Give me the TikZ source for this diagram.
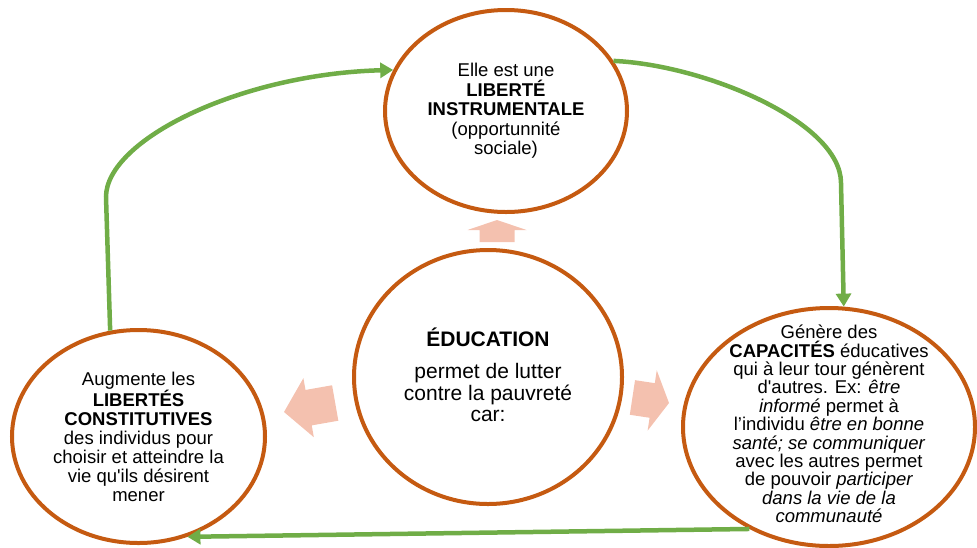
\documentclass[tikz,border=0pt]{standalone}
\usepackage{fontspec}
\setmainfont{Liberation Sans}
\usetikzlibrary{positioning, shapes.geometric, arrows.meta}
\definecolor{orangefonce}{HTML}{C55A11}
\definecolor{vertlien}{HTML}{70AD47}
\definecolor{saumon}{HTML}{F4C1AF}

\begin{document}
\begin{tikzpicture}[
		x=1pt, y=-1pt,
		% GLOBAL CFG
		>={Triangle[length=13pt,width=15pt]},
		% Styles
		bulle/.style={% For the ellipses
			ellipse,
			draw=orangefonce,
			line width=4pt,
			fill=white,
			inner sep=0pt,
		},
		texte/.style={% For the text in the ellipses
			align=center,
			inner sep=0pt,
			font=\fontsize{18.5}{19}\selectfont,
		},
		lien/.style={% For the green arrows
			->,
			draw=vertlien,
			line width=4.5pt,
		},
		bloc/.style={% For the pink block arrows
			fill=saumon,
		},
		]
		\useasboundingbox (0,0) rectangle (977,547);
		
		% Draw the ellipses
		\node [bulle, minimum width=242pt, minimum height=202pt] (haut) at (506,111) {};
		\node [bulle, minimum width=268pt, minimum height=254pt] (centre) at (488,377) {};
		\node [bulle, minimum width=253pt, minimum height=213pt] (gauche) at (138.5,436.5) {};
		\node [bulle, minimum width=292pt, minimum height=238pt] (droite) at (829,427) {};
		
		% Texts
		\node [texte, font=\fontsize{18.5}{19.5}\selectfont] (haut-t) at (haut) {Elle est une\\\textbf{LIBERTÉ}\\\textbf{INSTRUMENTALE}\\(opportunnité\\sociale)};
		\node [texte, font=\fontsize{21}{21.5}\selectfont] (centre-t) at ([yshift=2pt]centre.center) {\textbf{ÉDUCATION}\\[11pt]permet de lutter\\contre la pauvreté\\car:};
		\node [texte] (gauche-t) at (gauche) {Augmente les\\\textbf{LIBERTÉS}\\\textbf{CONSTITUTIVES}\\des individus pour\\choisir et atteindre la\\vie qu\textquotesingle ils désirent\\mener};
		\node [texte, font=\fontsize{18.5}{18.4}\selectfont] (droite-t) at ([yshift=3pt]droite.center) {Génère des\\\textbf{CAPACITÉS} éducatives\\qui à leur tour génèrent\\d\textquotesingle autres. Ex: \textit{être}\\\textit{informé} permet à\\l’individu \textit{être en bonne}\\\textit{santé; se communiquer}\\avec les autres permet\\de pouvoir \textit{participer}\\\textit{dans la vie de la}\\\textit{communauté}};
		
		% Block arrows out of the centre
		\coordinate (pointe-haut) at (497,220);
		\coordinate (pointe-gauche) at (284,412);
		\coordinate (pointe-droite) at (669,403);
		\fill [bloc, shift={(pointe-haut)}, rotate=90] (0,0) -- (-10,29.5) -- (-10,17.5) -- (-22,17.5) -- (-22,-17.5) -- (-10,-17.5) -- (-10,-29.5) -- cycle;
		\fill [bloc, shift={(pointe-gauche)}, rotate=190] (0,0) -- (-25,30) -- (-25,18) -- (-52,18) -- (-52,-18) -- (-25,-18) -- (-25,-30) -- cycle;
		\fill [bloc, shift={(pointe-droite)}, rotate=-8.6] (0,0) -- (-17,30.5) -- (-17,17.5) -- (-37,17.5) -- (-37,-17.5) -- (-17,-17.5) -- (-17,-30.5) -- cycle;
		
		% Green cycle
		\coordinate (coude1) at (106,197);
		\coordinate (coude2) at (841,183);
		\draw [lien] (gauche.105) -- (coude1) .. controls (106,140) and (240,74) .. (haut.160);
		\draw [lien] (haut.25) .. controls (705,65) and (841,122) .. (coude2) -- (droite.83);
		\draw [lien] (droite.232) -- (gauche.296);
		
	\end{tikzpicture}
\end{document}
